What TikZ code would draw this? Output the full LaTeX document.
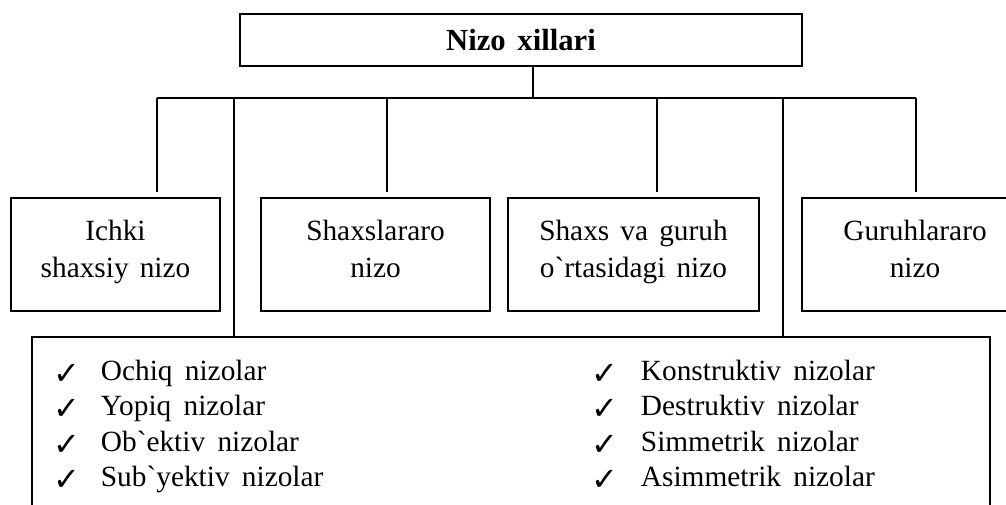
\documentclass[tikz,border=0pt]{standalone}
\usepackage{fontspec}
\setmainfont{Liberation Serif}
\newfontfamily\symfont{DejaVu Sans}
\newcommand\boxspace{\spaceskip 0.38em plus 0.1em\relax}
\newcommand\itemspace{\spaceskip 0.42em plus 0.1em\relax}
% fixed line strut so every two-line label sits on the same baselines
\newcommand\linestrut{\rule[-9pt]{0pt}{21pt}}
\newcommand\gr{\textasciigrave}
\begin{document}
\begin{tikzpicture}[x=0.75pt,y=-0.75pt,line width=1.4pt,
  box/.style={draw,inner sep=0pt,align=center,
    font={\fontsize{22}{27.75}\selectfont\boxspace}},
  item/.style={anchor=base west,inner sep=0pt,
    font={\fontsize{22}{26}\selectfont\itemspace}},
  tick/.style={anchor=base west,inner sep=0pt,font={\symfont\fontsize{24}{24}\selectfont}},
  stem/.style={shorten >=3.75pt}]
\useasboundingbox (0,0) rectangle (1006,504);
\begin{scope}
\clip (0,0) rectangle (1006,504);

% title box
\node[box,minimum width=421.5pt,minimum height=39pt,font={\fontsize{23}{27}\selectfont\boxspace}] (top) at (521,40)
  {\bfseries Nizo xillari};

% the four kinds of conflict
\node[box,minimum width=156.75pt,minimum height=84.75pt] (ichki) at (115.5,254.5)
  {\linestrut Ichki\\\linestrut shaxsiy nizo};
\node[box,minimum width=171.75pt,minimum height=84.75pt] (shax) at (375.5,254.5)
  {\linestrut Shaxslararo\\\linestrut nizo};
\node[box,minimum width=188.25pt,minimum height=84.75pt] (guruh) at (633.5,254.5)
  {\linestrut Shaxs va guruh\\\linestrut o\gr rtasidagi nizo};
\node[box,minimum width=169.5pt,minimum height=84.75pt] (gurar) at (915,254.5)
  {\linestrut Guruhlararo\\\linestrut nizo};

% list box
\node[draw,inner sep=0pt,minimum width=718.5pt,minimum height=137.25pt] (list) at (511,428.5) {};

% branching lines
\coordinate (hub) at (533,98);
\coordinate (b1) at (157,98);
\coordinate (b2) at (234,98);
\coordinate (b3) at (387,98);
\coordinate (b4) at (657,98);
\coordinate (b5) at (783,98);
\coordinate (b6) at (916,98);
\draw (hub |- top.south) -- (hub);
\draw (b1) -- (b6);
\draw[stem] (b1) -- (b1 |- ichki.north);
\draw[stem] (b3) -- (b3 |- shax.north);
\draw[stem] (b4) -- (b4 |- guruh.north);
\draw[stem] (b6) -- (b6 |- gurar.north);
\draw (b2) -- (b2 |- list.north);
\draw (b5) -- (b5 |- list.north);

% list items, left column
\foreach \txt [count=\i] in {Ochiq nizolar,Yopiq nizolar,Ob\gr ektiv nizolar,Sub\gr yektiv nizolar}{
  \node[tick] (tl\i) at (53,380+35.5*\i-35.5+4) {✓};
  \node[item] (il\i) at (100,380+35.5*\i-35.5) {\txt};
}
% list items, right column
\foreach \txt [count=\i] in {Konstruktiv nizolar,Destruktiv nizolar,Simmetrik nizolar,Asimmetrik nizolar}{
  \node[tick] (tr\i) at (591,380+35.5*\i-35.5+4) {✓};
  \node[item] (ir\i) at (640,380+35.5*\i-35.5) {\txt};
}
\end{scope}
\end{tikzpicture}
\end{document}
